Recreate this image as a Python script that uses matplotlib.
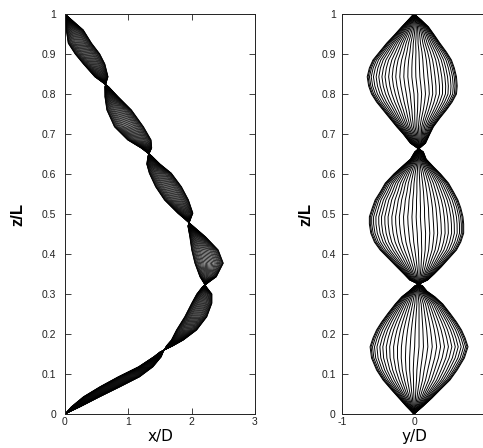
import matplotlib
matplotlib.use("Agg")
import matplotlib.pyplot as plt
import numpy as np

# ---- data ----
# left panel: in-line (x/D) envelope of the snapshot bundle
z_left = [0.000, 0.018, 0.043, 0.068, 0.093, 0.118, 0.143, 0.155, 0.170, 0.185,
          0.210, 0.243, 0.277, 0.300, 0.318, 0.343, 0.377, 0.410, 0.443, 0.470,
          0.502, 0.535, 0.568, 0.602, 0.625, 0.645, 0.665, 0.685, 0.718, 0.760,
          0.793, 0.818, 0.843, 0.875, 0.900, 0.927, 0.960, 1.000]
x_left_lo = [0.00, 0.10, 0.29, 0.55, 0.84, 1.16, 1.40, 1.50, 1.60, 1.68,
             1.76, 1.89, 2.00, 2.08, 2.17, 2.13, 2.05, 2.00, 1.97, 1.94,
             1.78, 1.57, 1.43, 1.33, 1.29, 1.31, 1.20, 0.99, 0.78, 0.66,
             0.63, 0.63, 0.47, 0.29, 0.16, 0.05, 0.02, 0.00]
x_left_hi = [0.00, 0.24, 0.55, 0.87, 1.18, 1.39, 1.52, 1.55, 1.70, 1.87,
             2.08, 2.24, 2.32, 2.32, 2.23, 2.39, 2.50, 2.42, 2.22, 2.02,
             2.02, 1.95, 1.84, 1.68, 1.50, 1.37, 1.37, 1.36, 1.24, 1.05,
             0.84, 0.69, 0.68, 0.63, 0.55, 0.42, 0.29, 0.00]
z_nodes_left = [0.155, 0.318, 0.470, 0.645, 0.818]

# right panel: cross-flow (y/D) envelope of the snapshot bundle
z_right = [0.000, 0.020, 0.040, 0.060, 0.085, 0.110, 0.140, 0.168, 0.190, 0.210,
           0.230, 0.252, 0.275, 0.293, 0.307, 0.320, 0.335, 0.350, 0.368, 0.390,
           0.410, 0.430, 0.452, 0.475, 0.493, 0.515, 0.535, 0.555, 0.577, 0.600,
           0.618, 0.637, 0.655, 0.677, 0.700, 0.718, 0.740, 0.760, 0.780, 0.800,
           0.820, 0.843, 0.865, 0.885, 0.905, 0.927, 0.948, 0.968, 0.985, 1.000]
y_right_lo = [0.00, -0.11, -0.21, -0.31, -0.43, -0.52, -0.59, -0.61, -0.57, -0.52,
              -0.45, -0.36, -0.26, -0.17, -0.07, 0.01, -0.06, -0.14, -0.24, -0.36,
              -0.47, -0.55, -0.60, -0.62, -0.62, -0.58, -0.54, -0.47, -0.40, -0.28,
              -0.17, -0.05, 0.01, -0.05, -0.15, -0.24, -0.34, -0.43, -0.52, -0.59,
              -0.63, -0.65, -0.62, -0.57, -0.48, -0.38, -0.27, -0.17, -0.08, 0.00]
y_right_hi = [0.00, 0.13, 0.25, 0.36, 0.50, 0.60, 0.70, 0.75, 0.71, 0.66,
              0.59, 0.50, 0.40, 0.29, 0.18, 0.12, 0.19, 0.28, 0.38, 0.49,
              0.59, 0.65, 0.69, 0.69, 0.68, 0.65, 0.61, 0.55, 0.48, 0.37,
              0.27, 0.17, 0.13, 0.16, 0.22, 0.27, 0.36, 0.45, 0.53, 0.59,
              0.60, 0.59, 0.56, 0.52, 0.45, 0.36, 0.28, 0.20, 0.10, 0.00]
z_nodes_right = [0.320, 0.655]

# relative position of each snapshot inside the envelope
snapshot_frac = [0.0, 0.01, 0.025, 0.045, 0.07, 0.10, 0.13, 0.165, 0.20, 0.24,
                 0.28, 0.32, 0.365, 0.41, 0.455, 0.50, 0.545, 0.59, 0.635, 0.68,
                 0.72, 0.76, 0.80, 0.835, 0.87, 0.90, 0.93, 0.955, 0.975, 0.99, 1.0]

z_ticks = [0, 0.1, 0.2, 0.3, 0.4, 0.5, 0.6, 0.7, 0.8, 0.9, 1]
z_tick_labels = ["0", "0.1", "0.2", "0.3", "0.4", "0.5", "0.6", "0.7", "0.8", "0.9", "1"]
x_ticks_left = [0, 1, 2, 3]
x_tick_labels_left = ["0", "1", "2", "3"]
y_ticks_right = [-1, 0]
y_tick_labels_right = ["-1", "0"]

plt.rcParams["font.family"] = ["Liberation Sans", "DejaVu Sans"]

W, H = 483, 448
fig = plt.figure(figsize=(W / 100, H / 100), dpi=100)
ax1 = fig.add_axes([65 / W, 34 / H, 190 / W, 400 / H])
ax2 = fig.add_axes([342 / W, 34 / H, 144 / W, 400 / H])


def draw_bundle(ax, z, lo, hi, nodes, lw):
    z = np.asarray(z); lo = np.asarray(lo); hi = np.asarray(hi)
    lobe = np.searchsorted(np.asarray(nodes), z, side="left")  # node point belongs to lower lobe
    flip = (lobe % 2) == 1
    for s in snapshot_frac:
        frac = np.where(flip, 1.0 - s, s)
        ax.plot(lo + frac * (hi - lo), z, color="black", lw=lw)


draw_bundle(ax1, z_left, x_left_lo, x_left_hi, z_nodes_left, 0.55)
draw_bundle(ax2, z_right, y_right_lo, y_right_hi, z_nodes_right, 0.7)


def style(ax, xt, xtl, xlim, xlabel, ypad, ylab_x):
    ax.set_xlim(*xlim)
    ax.set_ylim(0, 1)
    ax.set_xticks(xt)
    ax.set_xticklabels(xtl)
    ax.set_yticks(z_ticks)
    ax.set_yticklabels(z_tick_labels)
    ax.tick_params(direction="in", top=True, right=True, length=4.5, width=0.6,
                   labelsize=7.5, colors="#222222")
    ax.tick_params(axis="y", pad=ypad)
    ax.tick_params(axis="x", pad=2)
    for sp in ax.spines.values():
        sp.set_linewidth(0.7)
        sp.set_color("#222222")
    ax.set_xlabel(xlabel, fontsize=11, family=["DejaVu Sans"])
    ax.xaxis.set_label_coords(0.5, -0.038)
    ax.set_ylabel("z/L", fontsize=12, fontweight="bold")
    ax.yaxis.set_label_coords(ylab_x, 0.5)


style(ax1, x_ticks_left, x_tick_labels_left, (0, 3), "x/D", 6.5, -0.21)
style(ax2, y_ticks_right, y_tick_labels_right, (-1, 1), "y/D", 4.5, -0.20)

fig.savefig("out.png", dpi=100)
